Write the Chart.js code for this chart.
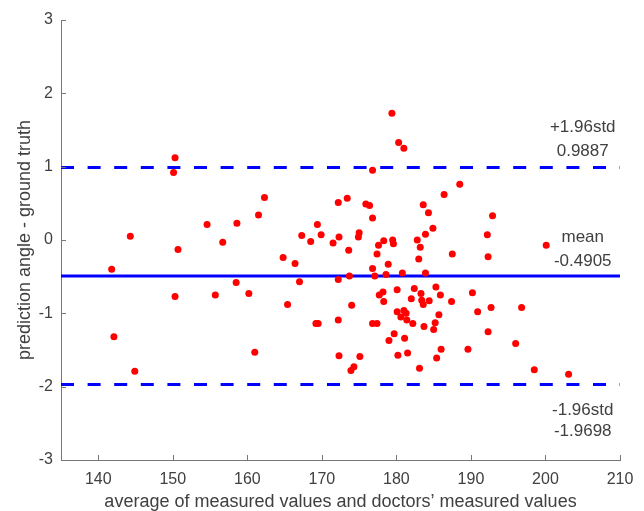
<!DOCTYPE html>
<html>
<head>
<meta charset="utf-8">
<script src="https://cdn.jsdelivr.net/npm/chart.js@4/dist/chart.umd.min.js"></script>
<style>
  body { margin: 0; background: #fff; }
  canvas { display: block; }
</style>
</head>
<body>
<canvas id="ba" width="644" height="511"></canvas>
<script>
// Bland-Altman plot - prediction vs ground truth
var avgVals = [
  150.3, 150.1, 144.3, 154.6, 158.6, 156.7, 150.7, 141.8, 158.5, 160.2,
  150.3, 155.7, 142.1, 144.9, 176.8, 162.3, 161.5, 172.2, 173.4, 175.9,
  176.4, 176.8, 169.4, 167.3, 169.9, 168.5, 172.3, 175.0, 174.9, 171.5,
  173.6, 177.6, 177.4, 164.8, 166.4, 167.0, 172.2, 173.7, 176.8, 177.1,
  165.4, 174.0, 177.7, 169.2, 169.5, 172.2, 176.8, 177.4, 161.0, 172.3,
  175.1, 174.3, 173.9, 179.4, 180.3, 181.0, 188.5, 186.4, 183.6, 184.3,
  192.9, 184.9, 183.9, 192.2, 178.3, 179.5, 179.6, 182.8, 183.2, 187.5,
  192.3, 183.0, 178.9, 178.6, 180.8, 183.9, 180.1, 182.4, 185.3, 178.2,
  183.3, 185.9, 190.2, 178.3, 182.0, 183.4, 183.6, 184.4, 187.4, 180.1,
  181.0, 181.3, 180.6, 181.4, 182.2, 185.7, 190.9, 192.7, 183.7, 185.2,
  185.0, 192.3, 179.7, 179.0, 181.1, 186.0, 189.6, 185.4, 181.5, 180.2,
  183.1, 200.1, 196.8, 196.0, 198.5, 203.1
];
var diffVals = [
  1.12, 0.92, 0.05, 0.21, 0.23, -0.03, -0.13, -0.40, -0.58, -0.73,
  -0.77, -0.75, -1.32, -1.79, 0.95, 0.58, 0.34, 0.51, 0.57, 0.49,
  0.47, 0.30, 0.21, 0.06, 0.07, -0.02, 0.04, 0.10, 0.04, -0.04,
  -0.14, -0.07, -0.19, -0.24, -0.32, -0.57, -0.54, -0.49, -0.39, -0.49,
  -0.88, -0.89, -0.75, -1.14, -1.14, -1.09, -1.14, -1.14, -1.53, -1.58,
  -1.59, -1.73, -1.78, 1.73, 1.33, 1.25, 0.76, 0.62, 0.48, 0.37,
  0.33, 0.16, 0.08, 0.07, -0.01, 0.00, -0.05, 0.00, -0.10, -0.19,
  -0.23, -0.26, -0.33, -0.47, -0.45, -0.45, -0.68, -0.66, -0.64, -0.71,
  -0.73, -0.75, -0.72, -0.84, -0.80, -0.82, -0.88, -0.83, -0.84, -0.98,
  -0.96, -1.00, -1.05, -1.09, -1.14, -1.02, -0.98, -0.92, -1.18, -1.13,
  -1.22, -1.25, -1.28, -1.37, -1.34, -1.49, -1.49, -1.61, -1.54, -1.57,
  -1.75, -0.07, -0.92, -1.41, -1.77, -1.83
];
var limitNames = ['+1.96std', 'mean', '-1.96std'];
var limitValues = [0.9887, -0.4905, -1.9698];
var xTicks = [140, 150, 160, 170, 180, 190, 200, 210];
var yTicks = [-3, -2, -1, 0, 1, 2, 3];
var xRange = [135, 210];

var points = avgVals.map(function (x, i) { return { x: x, y: diffVals[i] }; });
function hline(v) { return [{ x: xRange[0], y: v }, { x: xRange[1], y: v }]; }

var textColor = '#404040';
var axisColor = '#777777';
var fam = 'Liberation Sans, Arial, sans-serif';

var extras = {
  id: 'extras',
  afterDraw: function (chart) {
    var ctx = chart.ctx, xs = chart.scales.x, ys = chart.scales.y;
    var area = chart.chartArea;
    ctx.save();
    // inward ticks
    ctx.strokeStyle = axisColor;
    ctx.lineWidth = 1;
    ctx.beginPath();
    yTicks.forEach(function (v) {
      var py = Math.round(ys.getPixelForValue(v)) + 0.5;
      ctx.moveTo(area.left, py); ctx.lineTo(area.left + 5, py);
    });
    xTicks.forEach(function (v) {
      var px = Math.round(xs.getPixelForValue(v)) + 0.5;
      ctx.moveTo(px, area.bottom); ctx.lineTo(px, area.bottom - 5);
    });
    ctx.stroke();
    // limit labels
    ctx.fillStyle = textColor;
    ctx.font = '17px ' + fam;
    ctx.textAlign = 'center';
    ctx.textBaseline = 'middle';
    var tx = xs.getPixelForValue(205);
    var offs = [[-40, -16.5], [-39, -15], [25.5, 46.5]];
    limitValues.forEach(function (v, i) {
      var py = ys.getPixelForValue(v);
      ctx.fillText(limitNames[i], tx, py + offs[i][0]);
      ctx.fillText(v.toFixed(4), tx, py + offs[i][1]);
    });
    ctx.restore();
  }
};

new Chart(document.getElementById('ba'), {
  type: 'scatter',
  data: {
    datasets: [{
      label: 'difference',
      data: points,
      backgroundColor: '#ff0000',
      borderWidth: 0,
      pointRadius: 3.5
    }, {
      label: 'upper',
      data: hline(limitValues[0]),
      showLine: true,
      borderColor: '#0000ff',
      borderWidth: 3,
      borderDash: [13, 13.6],
      pointRadius: 0
    }, {
      label: 'mean',
      data: hline(limitValues[1]),
      showLine: true,
      borderColor: '#0000ff',
      borderWidth: 3,
      pointRadius: 0
    }, {
      label: 'lower',
      data: hline(limitValues[2]),
      showLine: true,
      borderColor: '#0000ff',
      borderWidth: 3,
      borderDash: [13, 13.6],
      pointRadius: 0
    }]
  },
  options: {
    responsive: false,
    animation: false,
    layout: { padding: { top: 20, right: 24, bottom: 0, left: 0 } },
    plugins: { legend: { display: false }, tooltip: { enabled: false } },
    scales: {
      x: {
        type: 'linear',
        min: xRange[0],
        max: xRange[1],
        afterBuildTicks: function (s) { s.ticks = xTicks.map(function (v) { return { value: v }; }); },
        afterFit: function (s) { s.height = 51; },
        grid: { display: false, drawTicks: false },
        border: { display: true, color: axisColor, width: 1 },
        ticks: { color: textColor, padding: 10, maxRotation: 0, autoSkip: false, font: { family: fam, size: 16 } },
        title: {
          display: true,
          text: 'average of measured values and doctors’ measured values',
          color: textColor,
          font: { family: fam, size: 18, lineHeight: 1 },
          padding: { top: 0, bottom: 0 }
        }
      },
      y: {
        min: -3,
        max: 3,
        afterBuildTicks: function (s) { s.ticks = yTicks.map(function (v) { return { value: v }; }); },
        afterFit: function (s) { s.width = 61; },
        grid: { display: false, drawTicks: false },
        border: { display: true, color: axisColor, width: 1 },
        ticks: { color: textColor, padding: 8, font: { family: fam, size: 16 } },
        title: {
          display: true,
          text: 'prediction angle - ground truth',
          color: textColor,
          font: { family: fam, size: 18, lineHeight: 1 },
          padding: { top: 16, bottom: 0 }
        }
      }
    }
  },
  plugins: [extras]
});
</script>
</body>
</html>
